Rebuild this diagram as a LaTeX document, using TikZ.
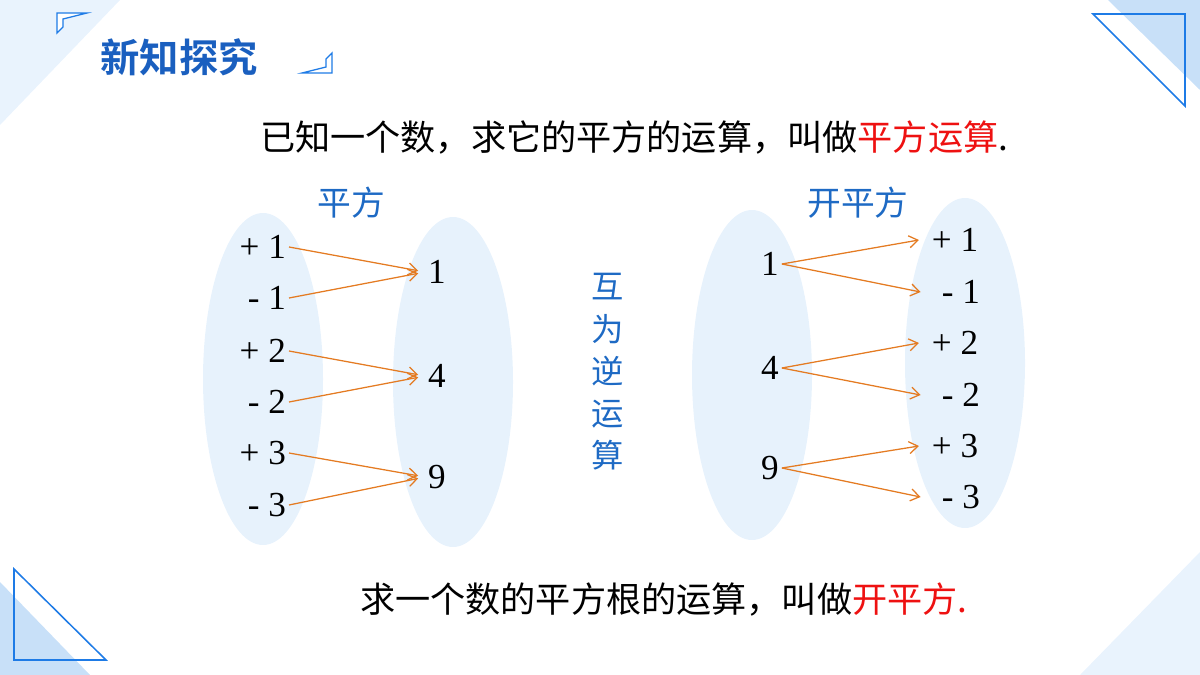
\documentclass[tikz,border=0pt]{standalone}
\usepackage{fontspec}
\setmainfont{Liberation Serif}
\newfontfamily\cjk{Noto Sans CJK SC}
\newfontfamily\cjkbold{Noto Sans CJK SC Bold}
\usetikzlibrary{
  positioning,
  arrows.meta
}
\definecolor{sqBlue}{HTML}{1E6AC4}
\definecolor{sqTitle}{HTML}{1A5FBF}
\definecolor{sqLine}{HTML}{1E7BE6}
\definecolor{sqFill}{HTML}{C8E0F8}
\definecolor{sqPale}{HTML}{E9F3FD}
\definecolor{sqBlob}{HTML}{E7F2FC}
\definecolor{sqRed}{HTML}{EE1111}
\definecolor{sqOrange}{HTML}{E47B22}

\begin{document}
\begin{tikzpicture}[
  x=0.025cm, y=-0.025cm,
  every node/.style={inner sep=2pt},
  num/.style={font=\fontsize{25}{25}\selectfont},
  lbl/.style={font=\cjk\fontsize{24}{24}\selectfont, text=sqBlue},
  sentence/.style={font=\cjk\fontsize{25}{25}\selectfont, anchor=west},
  blob/.style={fill=sqBlob, draw=none},
  corner/.style={draw=sqLine, line width=0.9pt, fill=white},
  arr/.style={draw=sqOrange, line width=0.9pt,
    -{Straight Barb[length=2.2mm, width=3mm]}}
]
 \useasboundingbox (0,0) rectangle (1200,675);
 % Background corners
 \fill[sqPale] (0,0) -- (120,0) -- (0,125) -- cycle;
 \fill[sqPale] (1200,552) -- (1200,675) -- (1080,675) -- cycle;
 \fill[sqFill] (1108,0) -- (1200,0) -- (1200,90) -- cycle;
 \fill[sqFill] (0,582) -- (0,675) -- (90,675) -- cycle;
 \draw[sqLine, line width=1.1pt] (1093,14) -- (1185,14) -- (1185,106) -- cycle;
 \draw[sqLine, line width=1.1pt] (14,569) -- (14,660) -- (106,660) -- cycle;

 % Title
 \draw[corner] (57,13) -- (87,13) -- (63,19) -- (63,27) -- (57,33) -- cycle;
 \draw[corner] (332,53) -- (332,73) -- (302,73) -- (326,67) -- (326,59) -- cycle;
 \node[font=\cjkbold\fontsize{28}{28}\selectfont, text=sqTitle] (title)
  at (179,57) {新知探究};

 % Sentences
 \node[sentence] (top) at (257,137)
  {已知一个数，求它的平方的运算，叫做\textcolor{sqRed}{平方运算}.};
 \node[sentence] (bottom) at (357,600)
  {求一个数的平方根的运算，叫做\textcolor{sqRed}{开平方.}};

 % Ellipses
 \fill[blob] (263,379) ellipse [x radius=60, y radius=166];
 \fill[blob] (453,382) ellipse [x radius=60, y radius=165];
 \fill[blob] (752,375) ellipse [x radius=60, y radius=165];
 \fill[blob] (965,363) ellipse [x radius=60, y radius=165];

 % Headings
 \node[lbl] (sq) at (351,203) {平方};
 \node[lbl] (rt) at (858,203) {开平方};
 \node[lbl, align=center, font=\cjk\fontsize{23}{30}\selectfont]
  (inv) at (608,372) {互\\为\\逆\\运\\算};

 % Squaring: left numbers
 \foreach \n/\t/\y in {a1/+ 1/247, b1/- 1/298, a2/+ 2/351,
             b2/- 2/402, a3/+ 3/453, b3/- 3/505} {
  \node[num, anchor=east] (L\n) at (289,\y) {\t};
 }
 \foreach \n/\y in {1/272, 4/376, 9/477} {
  \node[num] (S\n) at (437,\y) {\n};
 }
 \draw[arr, shorten >=5] (La1.east) -- (S1.west);
 \draw[arr, shorten >=5] (Lb1.east) -- (S1.west);
 \draw[arr, shorten >=5] (La2.east) -- (S4.west);
 \draw[arr, shorten >=5] (Lb2.east) -- (S4.west);
 \draw[arr, shorten >=5] (La3.east) -- (S9.west);
 \draw[arr, shorten >=5] (Lb3.east) -- (S9.west);

 % Square root: right numbers
 \foreach \n/\y in {1/264, 4/368, 9/468} {
  \node[num] (R\n) at (770,\y) {\n};
 }
 \foreach \n/\t/\x/\y in {a1/+ 1/955/240, b1/- 1/961/292, a2/+ 2/955/343,
             b2/- 2/961/395, a3/+ 3/955/446, b3/- 3/961/497} {
  \node[num] (T\n) at (\x,\y) {\t};
 }
 \draw[arr] (R1.east) -- ([xshift=-7]Ta1.west);
 \draw[arr] (R1.east) -- ([xshift=-13]Tb1.west);
 \draw[arr] (R4.east) -- ([xshift=-7]Ta2.west);
 \draw[arr] (R4.east) -- ([xshift=-13]Tb2.west);
 \draw[arr] (R9.east) -- ([xshift=-7]Ta3.west);
 \draw[arr] (R9.east) -- ([xshift=-13]Tb3.west);
\end{tikzpicture}
\end{document}
